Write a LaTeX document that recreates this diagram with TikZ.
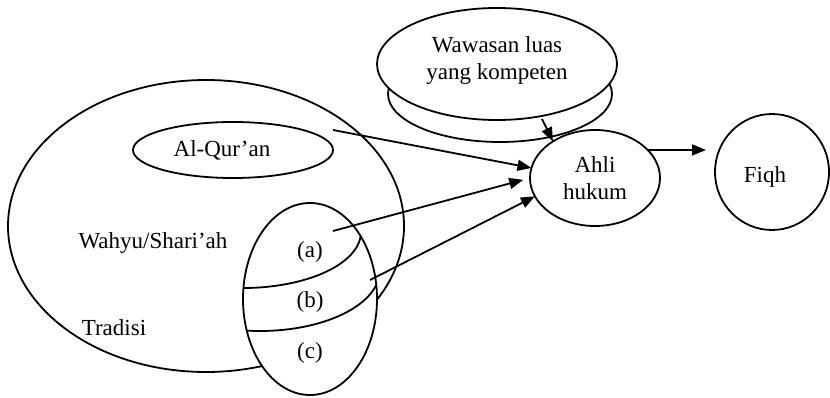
\documentclass[tikz,border=0pt]{standalone}
\usepackage{fontspec}
\setmainfont{Liberation Serif}
\usetikzlibrary{shapes.geometric,arrows.meta}
\begin{document}
\begin{tikzpicture}[x=1pt,y=-1pt,
  line width=1.8pt,
  txt/.style={font=\fontsize{23}{27}\selectfont, inner sep=0pt, align=center},
  ell/.style={draw, ellipse, inner sep=0pt, outer sep=0pt},
  arr/.style={-{Triangle[length=14pt,width=11pt]}},
]
\useasboundingbox (0,0) rectangle (830,398);

% big ellipse Wahyu/Shari'ah
\node[ell, minimum width=396pt, minimum height=292pt] (wahyu) at (206,226) {};
\node[ell, minimum width=200pt, minimum height=56pt] (quran) at (233,150) {};
\node[txt] (quranlbl) at (222,150) {Al-Qur’an};
\node[txt] (wahyulbl) at (153,243) {Wahyu/Shari’ah};
\node[txt] (tradisilbl) at (114,328) {Tradisi};

% Wawasan ellipses
\node[ell, minimum width=224pt, minimum height=96pt] (wawlow) at (500,94) {};
\node[ell, fill=white, minimum width=240pt, minimum height=112pt] (waw) at (497,64) {};
\node[txt] (wawlbl) at (497,61) {Wawasan luas\\yang kompeten};

% Ahli hukum and Fiqh
\node[ell, minimum width=130pt, minimum height=96pt, txt] (ahli) at (595,178) {Ahli\\hukum};
\node[ell, minimum width=114pt, minimum height=116pt] (fiqh) at (772,172) {};
\node[txt] (fiqhlbl) at (765,177) {Fiqh};

% free ends of connectors
\coordinate (qstart) at (333,130);
\coordinate (astart) at (333,231);
\coordinate (bstart) at (370,280);
\coordinate (wstart) at (542,119);

\draw[arr] (qstart) -- (ahli.171);

% small ellipse (a)(b)(c)
\node[ell, fill=white, minimum width=134pt, minimum height=192pt] (sunnah) at (310,299) {};
\begin{scope}
  \clip (310,299) ellipse [x radius=67, y radius=96];
  \draw (243,232) ++(110:118 and 56) arc[start angle=110, end angle=-30, x radius=118, y radius=56];
  \draw (260,270) ++(110:120 and 61) arc[start angle=110, end angle=-30, x radius=120, y radius=61];
\end{scope}
\node[txt] (albl) at (310,252) {(a)};
\node[txt] (blbl) at (310,302) {(b)};
\node[txt] (clbl) at (310,353) {(c)};

\draw[arr, shorten >=7pt] (astart) -- (ahli.180);
\draw[arr] (bstart) -- (ahli.197);
\draw[arr] (wstart) -- (ahli.139);
\draw[arr, shorten >=9pt] (ahli.28) -- (fiqh.west |- ahli.28);
\end{tikzpicture}
\end{document}
